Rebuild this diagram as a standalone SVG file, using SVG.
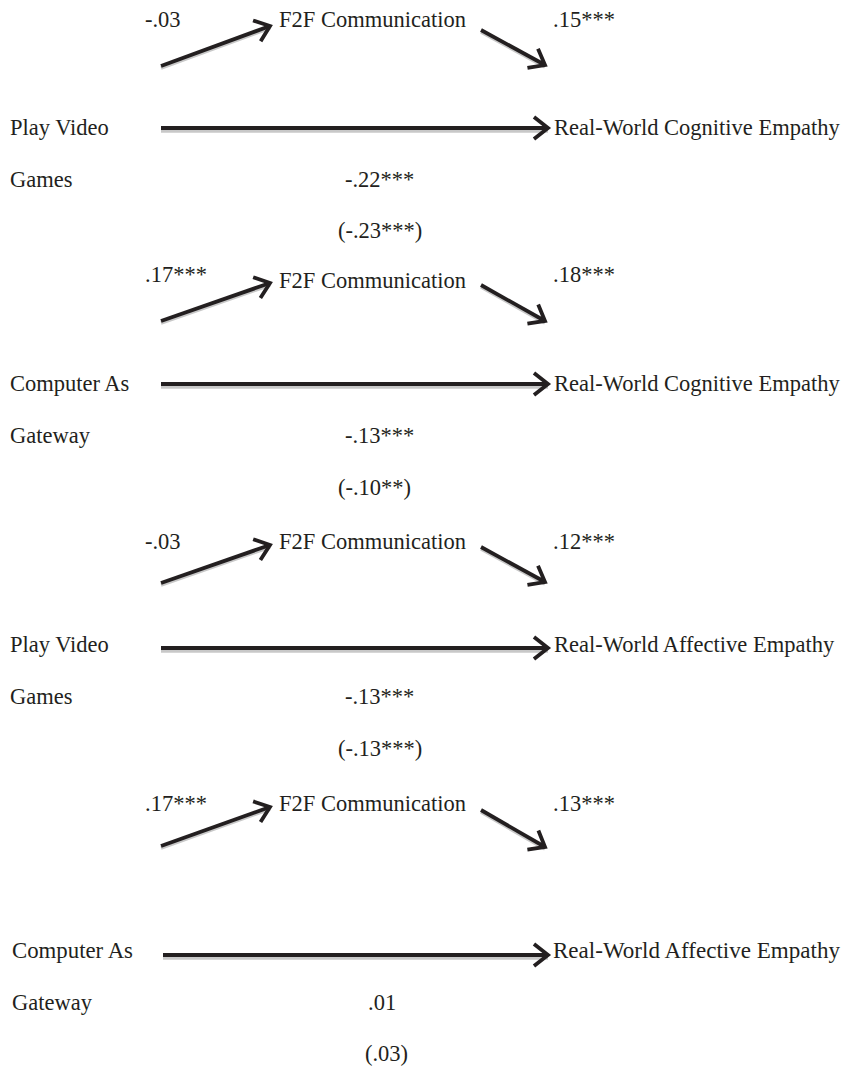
<svg xmlns="http://www.w3.org/2000/svg" width="843" height="1067" viewBox="0 0 843 1067">
<style>
text{font-family:"Liberation Serif","Times New Roman",serif;font-size:22.5px;fill:#231f20}
.ln{stroke:#231f20;stroke-width:3.8;fill:none;stroke-linecap:butt}
.sh{stroke:#c8c8c8;stroke-width:3.5;fill:none}
</style>
<defs>
<marker id="ah" viewBox="0 0 12 12" refX="10" refY="6" markerWidth="12" markerHeight="12" markerUnits="userSpaceOnUse" orient="auto" overflow="visible">
<path d="M-4,-5 L10,6 L-4,17" fill="none" stroke="#231f20" stroke-width="3.8" stroke-linejoin="miter"/>
</marker>
</defs>
<rect width="843" height="1067" fill="#fff"/>
<g id="connectors">
<line class="sh" x1="161" y1="68" x2="270" y2="28"/>
<line class="ln" x1="161" y1="66" x2="270" y2="26" marker-end="url(#ah)"/>
<line class="sh" x1="481" y1="32" x2="545" y2="67"/>
<line class="ln" x1="481" y1="30" x2="545" y2="65" marker-end="url(#ah)"/>
<line class="sh" x1="161" y1="131" x2="548" y2="131"/>
<line class="ln" x1="161" y1="128" x2="548" y2="128" marker-end="url(#ah)"/>

<line class="sh" x1="161" y1="323" x2="270" y2="285"/>
<line class="ln" x1="161" y1="321" x2="270" y2="283" marker-end="url(#ah)"/>
<line class="sh" x1="481" y1="287" x2="545" y2="323"/>
<line class="ln" x1="481" y1="285" x2="545" y2="321" marker-end="url(#ah)"/>
<line class="sh" x1="161" y1="387" x2="548" y2="387"/>
<line class="ln" x1="161" y1="384" x2="548" y2="384" marker-end="url(#ah)"/>

<line class="sh" x1="161" y1="585" x2="270" y2="547"/>
<line class="ln" x1="161" y1="583" x2="270" y2="545" marker-end="url(#ah)"/>
<line class="sh" x1="481" y1="549" x2="545" y2="584"/>
<line class="ln" x1="481" y1="547" x2="545" y2="582" marker-end="url(#ah)"/>
<line class="sh" x1="161" y1="651" x2="548" y2="651"/>
<line class="ln" x1="161" y1="648" x2="548" y2="648" marker-end="url(#ah)"/>

<line class="sh" x1="161" y1="848" x2="270" y2="809"/>
<line class="ln" x1="161" y1="846" x2="270" y2="807" marker-end="url(#ah)"/>
<line class="sh" x1="481" y1="812" x2="545" y2="849"/>
<line class="ln" x1="481" y1="810" x2="545" y2="847" marker-end="url(#ah)"/>
<line class="sh" x1="163" y1="958" x2="548" y2="958"/>
<line class="ln" x1="163" y1="955" x2="548" y2="955" marker-end="url(#ah)"/>
</g>
<g id="panel1">
<text x="145" y="27">-.03</text>
<text x="279" y="27">F2F Communication</text>
<text x="553" y="27">.15***</text>
<text x="10" y="135">Play Video</text>
<text x="554" y="135">Real-World Cognitive Empathy</text>
<text x="10" y="187">Games</text>
<text x="345" y="187">-.22***</text>
<text x="338" y="238">(-.23***)</text>
</g>
<g id="panel2">
<text x="145" y="282">.17***</text>
<text x="279" y="288">F2F Communication</text>
<text x="553" y="282">.18***</text>
<text x="10" y="391">Computer As</text>
<text x="554" y="391">Real-World Cognitive Empathy</text>
<text x="10" y="443">Gateway</text>
<text x="345" y="443">-.13***</text>
<text x="338" y="495">(-.10**)</text>
</g>
<g id="panel3">
<text x="145" y="549">-.03</text>
<text x="279" y="549">F2F Communication</text>
<text x="553" y="549">.12***</text>
<text x="10" y="652">Play Video</text>
<text x="554" y="652">Real-World Affective Empathy</text>
<text x="10" y="704">Games</text>
<text x="345" y="704">-.13***</text>
<text x="338" y="756">(-.13***)</text>
</g>
<g id="panel4">
<text x="145" y="811">.17***</text>
<text x="279" y="811">F2F Communication</text>
<text x="553" y="811">.13***</text>
<text x="12" y="958" textLength="121" lengthAdjust="spacingAndGlyphs">Computer As</text>
<text x="553" y="958" textLength="287" lengthAdjust="spacingAndGlyphs">Real-World Affective Empathy</text>
<text x="12" y="1010">Gateway</text>
<text x="368" y="1010">.01</text>
<text x="365" y="1061">(.03)</text>
</g>
</svg>
